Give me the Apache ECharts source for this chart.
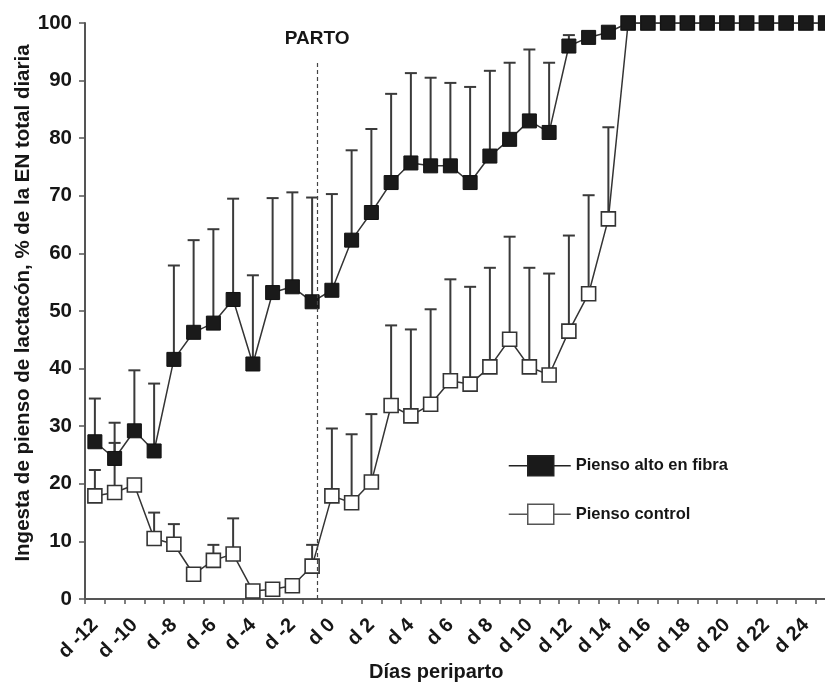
<!DOCTYPE html>
<html>
<head>
<meta charset="utf-8">
<script src="https://cdn.jsdelivr.net/npm/echarts@6/dist/echarts.min.js"></script>
<style>
  html, body { margin: 0; padding: 0; background: #fff; }
  #chart { width: 825px; height: 682px; }
</style>
</head>
<body>
<div id="chart"></div>
<script>
// Days around farrowing (one category per day)
const days = [
  'd -12', 'd -11', 'd -10', 'd -9', 'd -8', 'd -7', 'd -6', 'd -5', 'd -4', 'd -3', 'd -2', 'd -1',
  'd 0', 'd 1', 'd 2', 'd 3', 'd 4', 'd 5', 'd 6', 'd 7', 'd 8', 'd 9', 'd 10', 'd 11', 'd 12',
  'd 13', 'd 14', 'd 15', 'd 16', 'd 17', 'd 18', 'd 19', 'd 20', 'd 21', 'd 22', 'd 23', 'd 24', 'd 25'
];

// Lactation feed intake, % of total daily NE — high-fibre gestation feed
const fibra = [
  27.3, 24.4, 29.2, 25.7, 41.6, 46.3, 47.9, 52.0, 40.8, 53.2, 54.2, 51.6,
  53.6, 62.3, 67.1, 72.3, 75.7, 75.2, 75.2, 72.3, 76.9, 79.8, 83.0, 81.0, 96.0,
  97.5, 98.4, 100, 100, 100, 100, 100, 100, 100, 100, 100, 100, 100
];
// Upper end of the error bar (mean + SD)
const fibraUpper = [
  34.8, 30.6, 39.7, 37.4, 57.9, 62.3, 64.2, 69.5, 56.2, 69.6, 70.6, 69.7,
  70.3, 77.9, 81.6, 87.7, 91.3, 90.5, 89.6, 88.9, 91.7, 93.1, 95.4, 93.1, 97.9,
  null, null, null, null, null, null, null, null, null, null, null, null, null
];

// Control feed
const control = [
  17.9, 18.5, 19.8, 10.5, 9.5, 4.3, 6.7, 7.8, 1.4, 1.7, 2.3, 5.7,
  17.9, 16.7, 20.3, 33.6, 31.8, 33.8, 37.9, 37.3, 40.3, 45.1, 40.3, 38.9, 46.5,
  53.0, 66.0, 100, 100, 100, 100, 100, 100, 100, 100, 100, 100, 100
];
const controlUpper = [
  22.4, 27.1, null, 15.0, 13.0, null, 9.4, 14.0, null, null, null, 9.4,
  29.6, 28.6, 32.1, 47.5, 46.8, 50.3, 55.5, 54.2, 57.5, 62.9, 57.5, 56.5, 63.1,
  70.1, 81.9, null, null, null, null, null, null, null, null, null, null, null
];

const yTicks = [0, 10, 20, 30, 40, 50, 60, 70, 80, 90, 100];

// Farrowing marker, on the day scale (d0 = 0)
const partoDay = -0.75;
const partoTop = 93.5;

const FONT = '"Liberation Sans", Arial, sans-serif';
const INK = '#161616';
const LINE = '#343434';

function barData(mean, upper) {
  const out = [];
  upper.forEach(function (u, i) {
    if (u !== null) out.push([i, mean[i], u]);
  });
  return out;
}

function renderErrorBar(params, api) {
  const idx = api.value(0);
  const lo = api.coord([idx, api.value(1)]);
  const hi = api.coord([idx, api.value(2)]);
  const half = 6;
  const st = { stroke: '#3a3a3a', lineWidth: 2 };
  return {
    type: 'group',
    children: [
      { type: 'line', shape: { x1: lo[0], y1: lo[1], x2: hi[0], y2: hi[1] }, style: st },
      { type: 'line', shape: { x1: hi[0] - half, y1: hi[1], x2: hi[0] + half, y2: hi[1] }, style: st }
    ]
  };
}

const legendIcon = 'path://M0 10H19M45 10H62M19 0H45V20H19Z';

const chart = echarts.init(document.getElementById('chart'), null, { renderer: 'canvas' });

chart.setOption({
  animation: false,
  backgroundColor: '#fff',
  textStyle: { fontFamily: FONT },
  grid: { left: 85, right: -10.5, top: 23, bottom: 83, containLabel: false, outerBoundsMode: 'none' },
  legend: {
    orient: 'vertical',
    left: 503,
    top: 450,
    itemWidth: 62,
    itemHeight: 20,
    itemGap: 27,
    selectedMode: false,
    textStyle: { fontFamily: FONT, fontWeight: 'bold', fontSize: 16.5, color: INK },
    data: [
      { name: 'Pienso alto en fibra', icon: legendIcon,
        itemStyle: { color: '#1a1a1a', borderColor: '#222', borderWidth: 1.5 } },
      { name: 'Pienso control', icon: legendIcon,
        itemStyle: { color: '#fff', borderColor: '#555', borderWidth: 1.5 } }
    ]
  },
  xAxis: [
    {
      type: 'category',
      data: days,
      boundaryGap: true,
      name: 'Días periparto',
      nameLocation: 'middle',
      nameGap: 63,
      nameMoveOverlap: false,
      nameTextStyle: { fontFamily: FONT, fontWeight: 'bold', fontSize: 20, color: INK, padding: [0, 48, 0, 0] },
      axisLine: { onZero: false, lineStyle: { color: '#555', width: 2 } },
      axisTick: { show: true, interval: 0, length: 5, lineStyle: { color: '#555', width: 1.5 } },
      axisLabel: {
        interval: function (i) { return i % 2 === 0; },
        rotate: 45,
        margin: 23,
        fontFamily: FONT,
        fontWeight: 'bold',
        fontSize: 20,
        color: INK
      },
      splitLine: { show: false }
    },
    {
      // day scale used for the farrowing marker
      type: 'value',
      min: -12.5,
      max: 25.5,
      show: false
    }
  ],
  yAxis: {
    type: 'value',
    min: 0,
    max: 100,
    interval: 10,
    name: 'Ingesta de pienso de lactacón, % de la EN total diaria',
    nameLocation: 'middle',
    nameGap: 51,
    nameMoveOverlap: false,
    nameTextStyle: { fontFamily: FONT, fontWeight: 'bold', fontSize: 20.5, color: INK, padding: [0, 0, 0, 16] },
    axisLine: { show: true, onZero: false, lineStyle: { color: '#555', width: 2 } },
    axisTick: { show: true, length: 6, lineStyle: { color: '#555', width: 1.5 } },
    axisLabel: {
      margin: 13,
      fontFamily: FONT,
      fontWeight: 'bold',
      fontSize: 20.5,
      color: INK,
      formatter: function (v) { return yTicks.indexOf(v) >= 0 ? String(v) : ''; }
    },
    splitLine: { show: false }
  },
  series: [
    {
      name: 'barras control',
      type: 'custom',
      renderItem: renderErrorBar,
      data: barData(control, controlUpper),
      z: 1,
      silent: true
    },
    {
      name: 'barras fibra',
      type: 'custom',
      renderItem: renderErrorBar,
      data: barData(fibra, fibraUpper),
      z: 1,
      silent: true
    },
    {
      name: 'Pienso control',
      type: 'line',
      data: control,
      symbol: 'rect',
      symbolSize: 14,
      showAllSymbol: true,
      lineStyle: { color: LINE, width: 1.5 },
      itemStyle: { color: '#fff', borderColor: '#333', borderWidth: 1.6 },
      z: 3
    },
    {
      name: 'Pienso alto en fibra',
      type: 'line',
      data: fibra,
      symbol: 'rect',
      symbolSize: 14,
      showAllSymbol: true,
      lineStyle: { color: LINE, width: 1.5 },
      itemStyle: { color: '#1a1a1a', borderColor: '#111', borderWidth: 1 },
      z: 4
    },
    {
      name: 'parto',
      type: 'line',
      xAxisIndex: 1,
      data: [],
      silent: true,
      markLine: {
        symbol: ['none', 'none'],
        silent: true,
        lineStyle: { color: '#444', width: 1.2, type: [4, 3] },
        label: {
          show: true,
          position: 'end',
          distance: 12,
          formatter: 'PARTO',
          fontFamily: FONT,
          fontWeight: 'bold',
          fontSize: 19,
          color: INK
        },
        data: [[{ coord: [partoDay, 0] }, { coord: [partoDay, partoTop] }]]
      }
    }
  ]
});
</script>
</body>
</html>
